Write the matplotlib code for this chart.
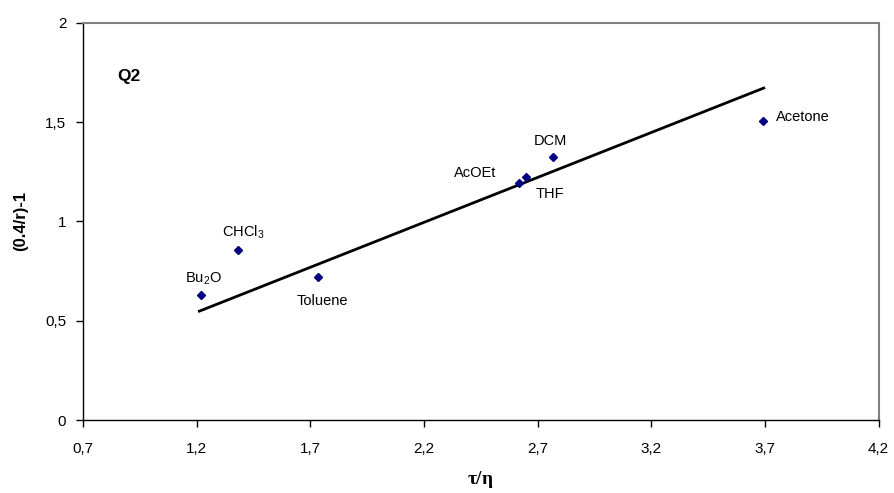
import numpy as np
import matplotlib
matplotlib.use("Agg")
import matplotlib.pyplot as plt
from matplotlib.ticker import FuncFormatter

plt.rcParams['font.family'] = ['Liberation Sans', 'DejaVu Sans']
plt.rcParams['mathtext.default'] = 'regular'

# solvent data
solvents = ['Bu$_2$O', 'CHCl$_3$', 'Toluene', 'AcOEt', 'THF', 'DCM', 'Acetone']
tau_eta = [1.218, 1.383, 1.736, 2.619, 2.650, 2.770, 3.690]
q2 = [0.631, 0.855, 0.720, 1.193, 1.225, 1.325, 1.506]

# trend line ends
fit_x = [1.212, 3.695]
fit_y = [0.548, 1.671]

# label offsets in pixels and alignment
offsets = [(3, 16), (5, 18), (4, -24), (-23, 10), (24, -17), (-3, 16), (13, 4)]
aligns = ['center', 'center', 'center', 'right', 'center', 'center', 'left']

fig = plt.figure(figsize=(8.94, 4.93), dpi=100)
ax = fig.add_axes([0.0928, 0.148, 0.8899, 0.806])

ax.plot(fit_x, fit_y, color='black', lw=2)
ax.plot(tau_eta, q2, linestyle='none', marker='D', markersize=4.5,
        color='#000080')

for name, x, y, off, ha in zip(solvents, tau_eta, q2, offsets, aligns):
    ax.annotate(name, (x, y), xytext=off, textcoords='offset pixels',
                ha=ha, va='center', fontsize=10.5)

ax.text(0.85, 1.708, 'Q2', fontsize=12.5, fontweight='bold')

ax.set_xlim(0.7, 4.2)
ax.set_ylim(0, 2)
ax.set_xticks(np.arange(0.7, 4.21, 0.5))
ax.set_yticks([0, 0.5, 1, 1.5, 2])
comma = FuncFormatter(lambda v, p: ('%g' % round(v, 2)).replace('.', ','))
ax.xaxis.set_major_formatter(comma)
ax.yaxis.set_major_formatter(comma)
ax.tick_params(direction='out', length=5, width=1, labelsize=11, pad=7)
ax.tick_params(axis='x', pad=11)

for s in ['top', 'right']:
    ax.spines[s].set_color('#808080')
    ax.spines[s].set_linewidth(1.5)
for s in ['left', 'bottom']:
    ax.spines[s].set_color('black')
    ax.spines[s].set_linewidth(1)

ax.set_xlabel(r'$\tau/\eta$', fontsize=14, fontweight='bold', labelpad=9,
              family='Liberation Serif')
ax.set_ylabel('(0.4/r)-1', fontsize=12, fontweight='bold', labelpad=12)

fig.savefig('out.png', dpi=100)
